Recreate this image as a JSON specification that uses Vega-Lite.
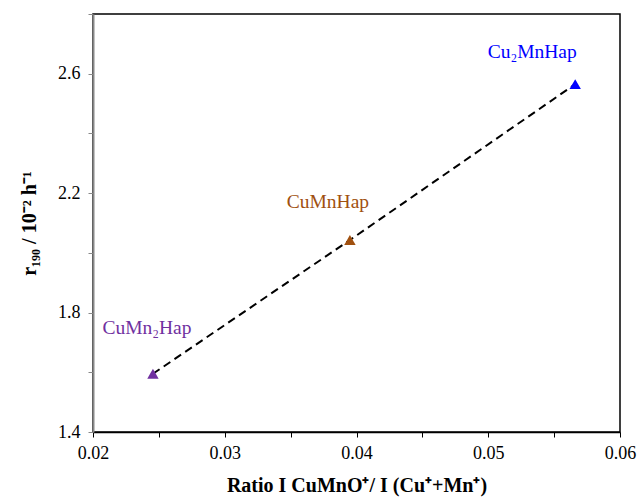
{
  "$schema": "https://vega.github.io/schema/vega-lite/v6.json",
  "autosize": {"type": "none"},
  "padding": {"left": 93, "top": 14, "right": 19, "bottom": 68},
  "width": 527,
  "height": 418,
  "background": "white",
  "config": {
    "font": "Liberation Serif",
    "view": {"stroke": "black", "strokeWidth": 1.5},
    "axis": {"grid": false, "labelFlush": false, "labelFont": "Liberation Serif", "titleFont": "Liberation Serif", "labelColor": "black", "titleColor": "black"}
  },
  "data": {"values": [
    {"ratio": 0.02455, "r": 1.595, "sample": "CuMn₂Hap"},
    {"ratio": 0.0395, "r": 2.043, "sample": "CuMnHap"},
    {"ratio": 0.0566, "r": 2.565, "sample": "Cu₂MnHap"}
  ]},
  "encoding": {
    "x": {"field": "ratio", "type": "quantitative", "scale": {"domain": [0.02, 0.06], "nice": false, "zero": false},
      "axis": {"values": [0.02, 0.025, 0.03, 0.035, 0.04, 0.045, 0.05, 0.055, 0.06], "format": ".2f",
        "labelExpr": "round(datum.value*1000) % 10 == 0 ? datum.label : ''", "labelFlush": false,
        "domainColor": "black", "domainWidth": 1.5, "tickColor": "black", "tickSize": 5, "labelFontSize": 18, "labelPadding": 7,
        "title": "Ratio  I CuMnO⁺/ I (Cu⁺+Mn⁺)", "titleFontSize": 20, "titleFontWeight": "bold", "titlePadding": 13}},
    "y": {"field": "r", "type": "quantitative", "scale": {"domain": [1.4, 2.8], "nice": false, "zero": false},
      "axis": {"values": [1.4, 1.6, 1.8, 2.0, 2.2, 2.4, 2.6, 2.8], "format": ".1f",
        "labelExpr": "round(datum.value*10) % 4 == 2 ? datum.label : ''", "labelFlush": false,
        "domainColor": "#888888", "domainWidth": 2, "tickColor": "#888888", "tickSize": 5, "labelFontSize": 18, "labelPadding": 8,
        "title": "r₁₉₀ / 10⁻² h⁻¹", "titleFontSize": 20, "titleFontWeight": "bold", "titlePadding": 18}}
  },
  "layer": [
    {"mark": {"type": "line", "color": "black", "strokeDash": [8, 5], "strokeWidth": 2}},
    {"mark": {"type": "point", "shape": "triangle-up", "filled": true, "size": 130, "opacity": 1},
      "encoding": {"color": {"field": "sample", "type": "nominal", "legend": null,
        "scale": {"domain": ["CuMn₂Hap", "CuMnHap", "Cu₂MnHap"], "range": ["#7030A0", "#A0500F", "#0000FF"]}}}},
    {"transform": [{"filter": "datum.sample == 'Cu₂MnHap'"}],
      "mark": {"type": "text", "fontSize": 19.5, "color": "#0000FF", "dx": -43, "dy": -32, "baseline": "middle"},
      "encoding": {"text": {"field": "sample"}}},
    {"transform": [{"filter": "datum.sample == 'CuMnHap'"}],
      "mark": {"type": "text", "fontSize": 19.5, "color": "#A0500F", "dx": -22, "dy": -38, "baseline": "middle"},
      "encoding": {"text": {"field": "sample"}}},
    {"transform": [{"filter": "datum.sample == 'CuMn₂Hap'"}],
      "mark": {"type": "text", "fontSize": 19.5, "color": "#7030A0", "dx": -6, "dy": -46, "baseline": "middle"},
      "encoding": {"text": {"field": "sample"}}}
  ]
}
